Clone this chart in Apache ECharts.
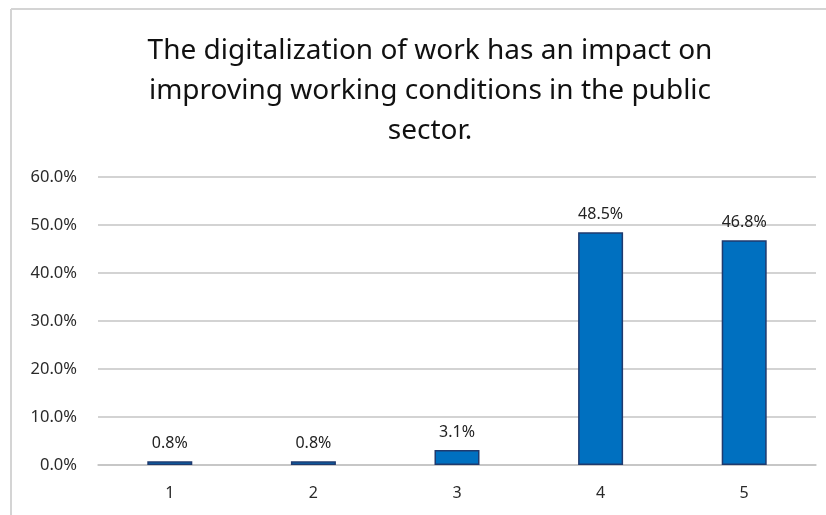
<!DOCTYPE html>
<html>
<head>
<meta charset="utf-8">
<script src="https://cdn.jsdelivr.net/npm/echarts@6/dist/echarts.min.js"></script>
<style>
  html, body { margin: 0; padding: 0; background: #fff; }
  #chart { width: 826px; height: 515px; }
</style>
</head>
<body>
<div id="chart"></div>
<script>
const titleLines = [
  'The digitalization of work has an impact on',
  'improving working conditions in the public',
  'sector.'
];
const categories = ['1', '2', '3', '4', '5'];
const shares = [0.8, 0.8, 3.1, 48.5, 46.8];
const yTicks = { min: 0, max: 60, step: 10 };

const FONT = 'Noto Sans';
const chart = echarts.init(document.getElementById('chart'), null, { renderer: 'canvas' });

chart.setOption({
  animation: false,
  backgroundColor: '#ffffff',
  grid: { left: 98, right: 10, top: 177, bottom: 50, containLabel: false },
  graphic: [
    {
      type: 'text', x: 430, y: 31,
      style: {
        text: titleLines.join('\n'),
        font: '28px "' + FONT + '"',
        fill: '#111111',
        align: 'center',
        verticalAlign: 'top',
        lineHeight: 40
      }
    },
    { type: 'line', shape: { x1: 11, y1: 9, x2: 826, y2: 9 }, style: { stroke: '#d4d4d4', lineWidth: 2 } },
    { type: 'line', shape: { x1: 11, y1: 9, x2: 11, y2: 515 }, style: { stroke: '#d4d4d4', lineWidth: 2 } }
  ],
  xAxis: {
    type: 'category',
    data: categories,
    axisLine: { show: true, lineStyle: { color: '#c4c4c4', width: 1.5 } },
    axisTick: { show: false },
    axisLabel: { color: '#2a2a2a', fontFamily: FONT, fontSize: 16, margin: 20 }
  },
  yAxis: {
    type: 'value',
    min: yTicks.min, max: yTicks.max, interval: yTicks.step,
    axisLine: { show: false },
    axisTick: { show: false },
    splitLine: { lineStyle: { color: '#c4c4c4', width: 1.5 } },
    axisLabel: {
      color: '#2a2a2a', fontFamily: FONT, fontSize: 16.5, margin: 21,
      formatter: v => v.toFixed(1) + '%'
    }
  },
  series: [{
    type: 'bar',
    data: shares,
    barWidth: 45,
    itemStyle: { color: '#0070C0', borderColor: '#1F3A6E', borderWidth: 1.5 },
    label: {
      show: true, position: 'top', distance: 10,
      color: '#222222', fontFamily: FONT, fontSize: 16,
      formatter: p => p.value.toFixed(1) + '%'
    }
  }]
});
</script>
</body>
</html>
